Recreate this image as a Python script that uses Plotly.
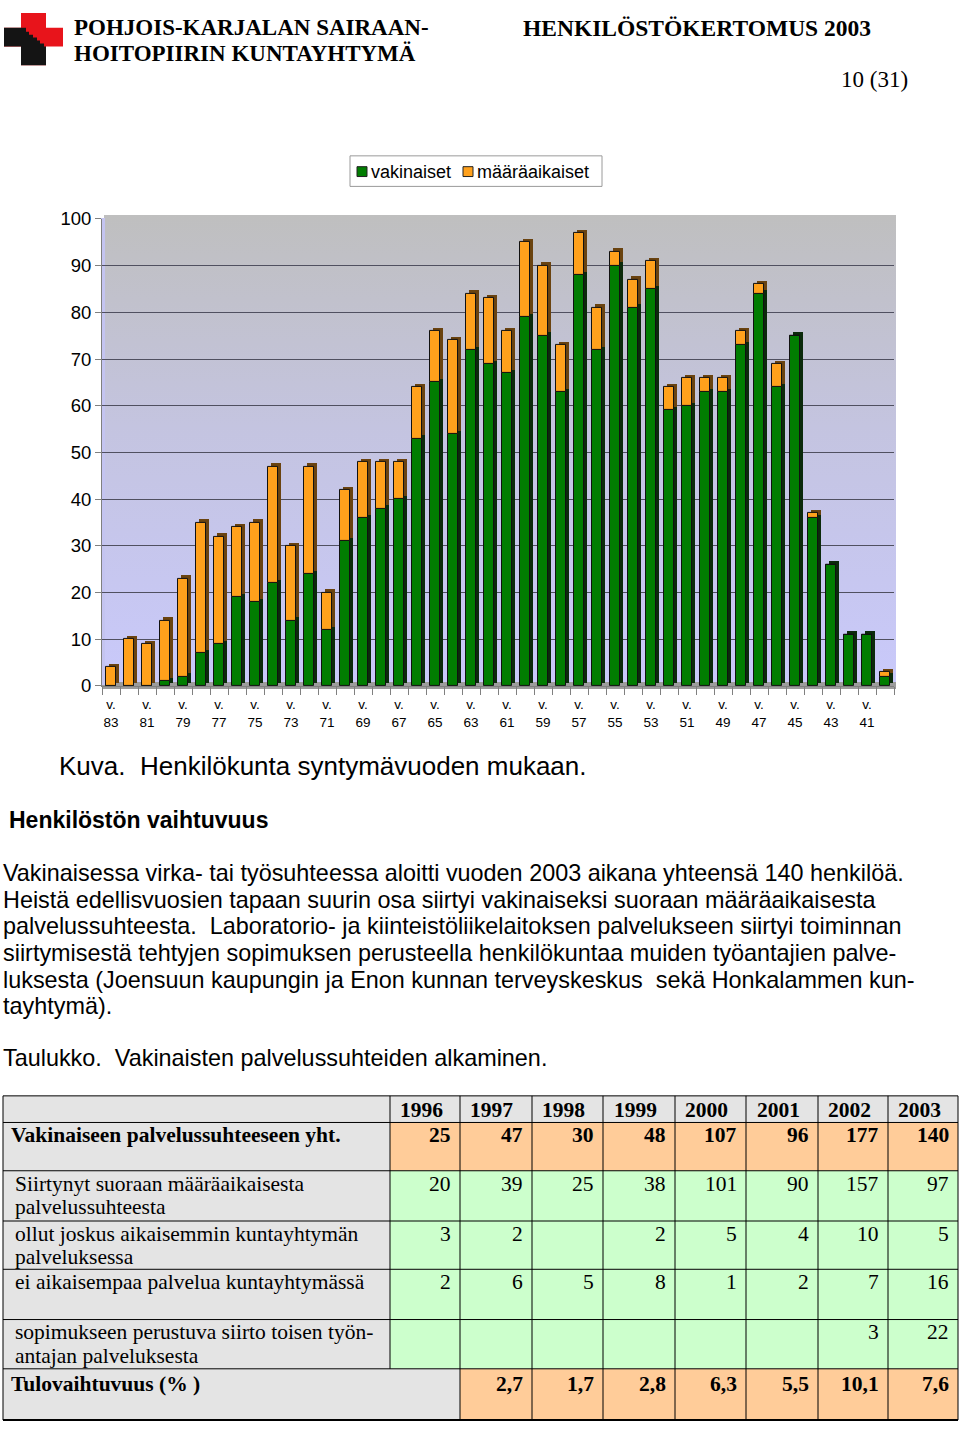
import base64
import plotly.graph_objects as go

# birth year (19xx) -> staff count
years = [str(y) for y in range(83, 39, -1)]
vakinaiset = [0, 0, 0, 1, 2, 7, 9, 19, 18, 22, 14, 24, 12, 31, 36, 38, 40, 53, 65, 54, 72, 69,
              67, 79, 75, 63, 88, 72, 90, 81, 85, 59, 60, 63, 63, 73, 84, 64, 75, 36, 26, 11, 11, 2]
maaraaikaiset = [4, 10, 9, 13, 21, 28, 23, 15, 17, 25, 16, 23, 8, 11, 12, 10, 8, 11, 11, 20, 12, 14,
                 9, 16, 15, 10, 9, 9, 3, 6, 6, 5, 6, 3, 3, 3, 2, 5, 0, 1, 0, 0, 0, 1]
series_names = ["vakinaiset", "määräaikaiset"]

# table data
table_years = ["1996", "1997", "1998", "1999", "2000", "2001", "2002", "2003"]
yht = [25, 47, 30, 48, 107, 96, 177, 140]
siirtynyt = [20, 39, 25, 38, 101, 90, 157, 97]
ollut = [3, 2, None, 2, 5, 4, 10, 5]
ei_aik = [2, 6, 5, 8, 1, 2, 7, 16]
sopimus = [None, None, None, None, None, None, 3, 22]
tulovaihtuvuus = [None, 2.7, 1.7, 2.8, 6.3, 5.5, 10.1, 7.6]

paragraph = [
    "Vakinaisessa virka- tai työsuhteessa aloitti vuoden 2003 aikana yhteensä 140 henkilöä.",
    "Heistä edellisvuosien tapaan suurin osa siirtyi vakinaiseksi suoraan määräaikaisesta",
    "palvelussuhteesta.\u00a0 Laboratorio- ja kiinteistöliikelaitoksen palvelukseen siirtyi toiminnan",
    "siirtymisestä tehtyjen sopimuksen perusteella henkilökuntaa muiden työantajien palve-",
    "luksesta (Joensuun kaupungin ja Enon kunnan terveyskeskus\u00a0 sekä Honkalammen kun-",
    "tayhtymä).",
]

W, H = 960, 1433
SANS = "Liberation Sans"
SERIF = "Liberation Serif"


def px(x):
    return x / W


def py(y):
    return 1 - y / H


GREEN = "#017d01"
ORANGE = "#ffa11c"
bw = 0.56
off = -bw / 2

base_o = [g for g in vakinaiset]
base_gs = [0.7] * len(years)
base_os = [g + 0.7 for g in vakinaiset]

fig = go.Figure()
# side faces (3D look)
fig.add_trace(go.Bar(x=years, y=vakinaiset, base=base_gs, width=bw, offset=off + 0.17,
                     marker=dict(color="#0b2a0b", line=dict(width=0)), showlegend=False, hoverinfo="skip"))
fig.add_trace(go.Bar(x=years, y=maaraaikaiset, base=base_os, width=bw, offset=off + 0.17,
                     marker=dict(color="#6a4310", line=dict(width=0)), showlegend=False, hoverinfo="skip"))
fig.add_trace(go.Bar(x=years, y=vakinaiset, base=0, width=bw, offset=off, name=series_names[0],
                     marker=dict(color=GREEN, line=dict(color="#111", width=1)), showlegend=False))
fig.add_trace(go.Bar(x=years, y=maaraaikaiset, base=base_o, width=bw, offset=off, name=series_names[1],
                     marker=dict(color=ORANGE, line=dict(color="#111", width=1)), showlegend=False))

ticktext = ["v.<br>" + y if i % 2 == 0 else "" for i, y in enumerate(years)]

svg = ('<svg xmlns="http://www.w3.org/2000/svg" width="100" height="100" preserveAspectRatio="none">'
       '<defs><linearGradient id="g" x1="0" y1="0" x2="0" y2="1">'
       '<stop offset="0" stop-color="#bfbfbf"/><stop offset="0.45" stop-color="#c4c4e0"/>'
       '<stop offset="1" stop-color="#c9c9fb"/></linearGradient></defs>'
       '<rect width="100" height="100" fill="url(#g)"/></svg>')
src = "data:image/svg+xml;base64," + base64.b64encode(svg.encode()).decode()

fig.update_layout(
    width=W, height=H, margin=dict(l=0, r=0, t=0, b=0),
    paper_bgcolor="white", plot_bgcolor="rgba(0,0,0,0)",
    barmode="overlay", bargap=0, showlegend=False,
    font=dict(family=SANS, color="black"),
    xaxis=dict(domain=[px(102), px(894)], type="category", tickson="boundaries",
               tickvals=years, ticktext=ticktext, tickangle=0, ticks="outside", ticklen=8,
               tickcolor="#808080", tickfont=dict(size=13.5), ticklabelstandoff=6,
               showgrid=False, showline=True, linecolor="#808080", range=[-0.5, 43.5]),
    yaxis=dict(domain=[py(685), py(211)], range=[0, 100], dtick=10, showgrid=True,
               gridcolor="#505060", gridwidth=1, showline=True, linecolor="#808080",
               ticks="outside", ticklen=6, tickcolor="#808080", tickfont=dict(size=18.5),
               zeroline=False),
    images=[dict(source=src, xref="paper", yref="paper", x=px(104), y=py(207),
                 sizex=(896 - 104) / W, sizey=(685 - 207) / H, sizing="stretch",
                 layer="below")],
)

shapes = []
# floor and left wall of the 3D chart
shapes.append(dict(type="rect", xref="paper", yref="paper", x0=px(102), x1=px(896),
                   y0=py(688), y1=py(681), fillcolor="#9c9c9c", line=dict(width=0), layer="below"))
shapes.append(dict(type="rect", xref="paper", yref="paper", x0=px(101), x1=px(105),
                   y0=py(684), y1=py(210), fillcolor="#c4c4f0", line=dict(width=0), layer="below"))

# legend box
shapes.append(dict(type="rect", xref="paper", yref="paper", x0=px(350), x1=px(602),
                   y0=py(178), y1=py(147), fillcolor="white", line=dict(color="#9a9a9a", width=1)))
for x0, c in [(357, GREEN), (463, ORANGE)]:
    shapes.append(dict(type="rect", xref="paper", yref="paper", x0=px(x0), x1=px(x0 + 10),
                       y0=py(168), y1=py(158), fillcolor=c, line=dict(color="#222", width=1)))

# logo
shapes.append(dict(type="path", xref="paper", yref="paper", fillcolor="#e8141b", line=dict(width=0),
                   path="M {} {} L {} {} L {} {} L {} {} L {} {} L {} {} L {} {} L {} {} L {} {} L {} {} L {} {} L {} {} Z".format(
                       *[v for p in [(21, 2), (46, 2), (46, 17), (63, 17), (63, 36), (46, 36), (46, 55),
                                     (21, 55), (21, 36), (4, 36), (4, 17), (21, 17)]
                         for v in (px(p[0]), py(p[1]))])))
blk = [(4, 17), (26, 17), (26, 21), (29, 21), (29, 24), (33, 24), (33, 27), (37, 27), (37, 30),
       (40, 30), (40, 33), (44, 33), (44, 36), (46, 36), (46, 55), (21, 55), (21, 36), (4, 36)]
shapes.append(dict(type="path", xref="paper", yref="paper", fillcolor="#141414", line=dict(width=0),
                   path="M " + " L ".join("{} {}".format(px(a), py(b)) for a, b in blk) + " Z"))

annotations = []


def txt(x, y, s, size, family=SANS, bold=False, anchor="left"):
    if bold:
        s = "<b>" + s + "</b>"
    annotations.append(dict(x=px(x), y=py(y), xref="paper", yref="paper", text=s, showarrow=False,
                            xanchor=anchor, yanchor="middle", borderpad=0,
                            font=dict(size=size, family=family, color="black")))


txt(370, 163, series_names[0], 18)
txt(476, 163, series_names[1], 18)

txt(73, 17, "POHJOIS-KARJALAN SAIRAAN-", 23, SERIF, True)
txt(73, 43, "HOITOPIIRIN KUNTAYHTYMÄ", 23, SERIF, True)
txt(522, 17, "HENKILÖSTÖKERTOMUS 2003", 23.5, SERIF, True)
txt(909, 70, "10 (31)", 23, SERIF, anchor="right")

txt(58, 766, "Kuva.\u00a0 Henkilökunta syntymävuoden mukaan.", 26)
txt(8, 821, "Henkilöstön vaihtuvuus", 23, bold=True)
for i, line in enumerate(paragraph):
    txt(2, 875 + 27 * i, line, 23.4)
txt(2, 1063, "Taulukko.\u00a0 Vakinaisten palvelussuhteiden alkaminen.", 23.4)

# table
col_x = [3, 390, 460, 532, 603, 675, 746, 818, 888, 958]
row_y = [1101, 1128, 1177, 1228, 1277, 1328, 1378, 1430]
GRAY = "#e4e4e4"
PEACH = "#ffcc99"
LGREEN = "#ccffcc"


def rect(x0, x1, y0, y1, color):
    shapes.append(dict(type="rect", xref="paper", yref="paper", x0=px(x0), x1=px(x1),
                       y0=py(y1), y1=py(y0), fillcolor=color, line=dict(width=0), layer="below"))


row_fill = [GRAY, PEACH, LGREEN, LGREEN, LGREEN, LGREEN, PEACH]
for r in range(7):
    if r == 6:
        rect(col_x[0], col_x[2], row_y[r], row_y[r + 1], GRAY)
        rect(col_x[2], col_x[-1], row_y[r], row_y[r + 1], row_fill[r])
    else:
        rect(col_x[0], col_x[1], row_y[r], row_y[r + 1], GRAY)
        rect(col_x[1], col_x[-1], row_y[r], row_y[r + 1], row_fill[r])


def line(x0, y0, x1, y1, w=1):
    shapes.append(dict(type="line", xref="paper", yref="paper", x0=px(x0), x1=px(x1),
                       y0=py(y0), y1=py(y1), line=dict(color="black", width=w)))


for yy in row_y[1:-1]:
    line(col_x[0], yy, col_x[-1], yy)
line(col_x[0], row_y[0], col_x[-1], row_y[0])
line(col_x[0], row_y[-1], col_x[-1], row_y[-1], 2)
for i, xx in enumerate(col_x):
    if i == 1:
        line(xx, row_y[0], xx, row_y[-2])
    else:
        line(xx, row_y[0], xx, row_y[-1])

for i, yr in enumerate(table_years):
    txt((col_x[i + 1] + col_x[i + 2]) / 2 - 4, 1115, yr, 21.5, SERIF, True, "center")

rows = [
    (["Vakinaiseen palvelussuhteeseen yht."], yht, True),
    (["Siirtynyt suoraan määräaikaisesta", "palvelussuhteesta"], siirtynyt, False),
    (["ollut joskus aikaisemmin kuntayhtymän", "palveluksessa"], ollut, False),
    (["ei aikaisempaa palvelua kuntayhtymässä"], ei_aik, False),
    (["sopimukseen perustuva siirto toisen työn-", "antajan palveluksesta"], sopimus, False),
]
for r, (labels, vals, bold) in enumerate(rows):
    top = row_y[r + 1]
    for j, lab in enumerate(labels):
        txt(10 if bold else 14, top + 13 + 24 * j, lab, 21.5, SERIF, bold)
    for i, v in enumerate(vals):
        if v is not None:
            txt(col_x[i + 2] - 8, top + 13, str(v), 21.5, SERIF, bold, "right")

top = row_y[6]
txt(10, top + 15, "Tulovaihtuvuus (% )", 21.5, SERIF, True)
for i, v in enumerate(tulovaihtuvuus):
    if v is not None:
        txt(col_x[i + 2] - 8, top + 15, ("%.1f" % v).replace(".", ","), 21.5, SERIF, True, "right")

fig.update_layout(shapes=shapes, annotations=annotations)

fig.write_html("out.html", config={"displayModeBar": False},
               post_script="document.body.style.margin='0';"
                           "document.documentElement.style.overflow='hidden';")
